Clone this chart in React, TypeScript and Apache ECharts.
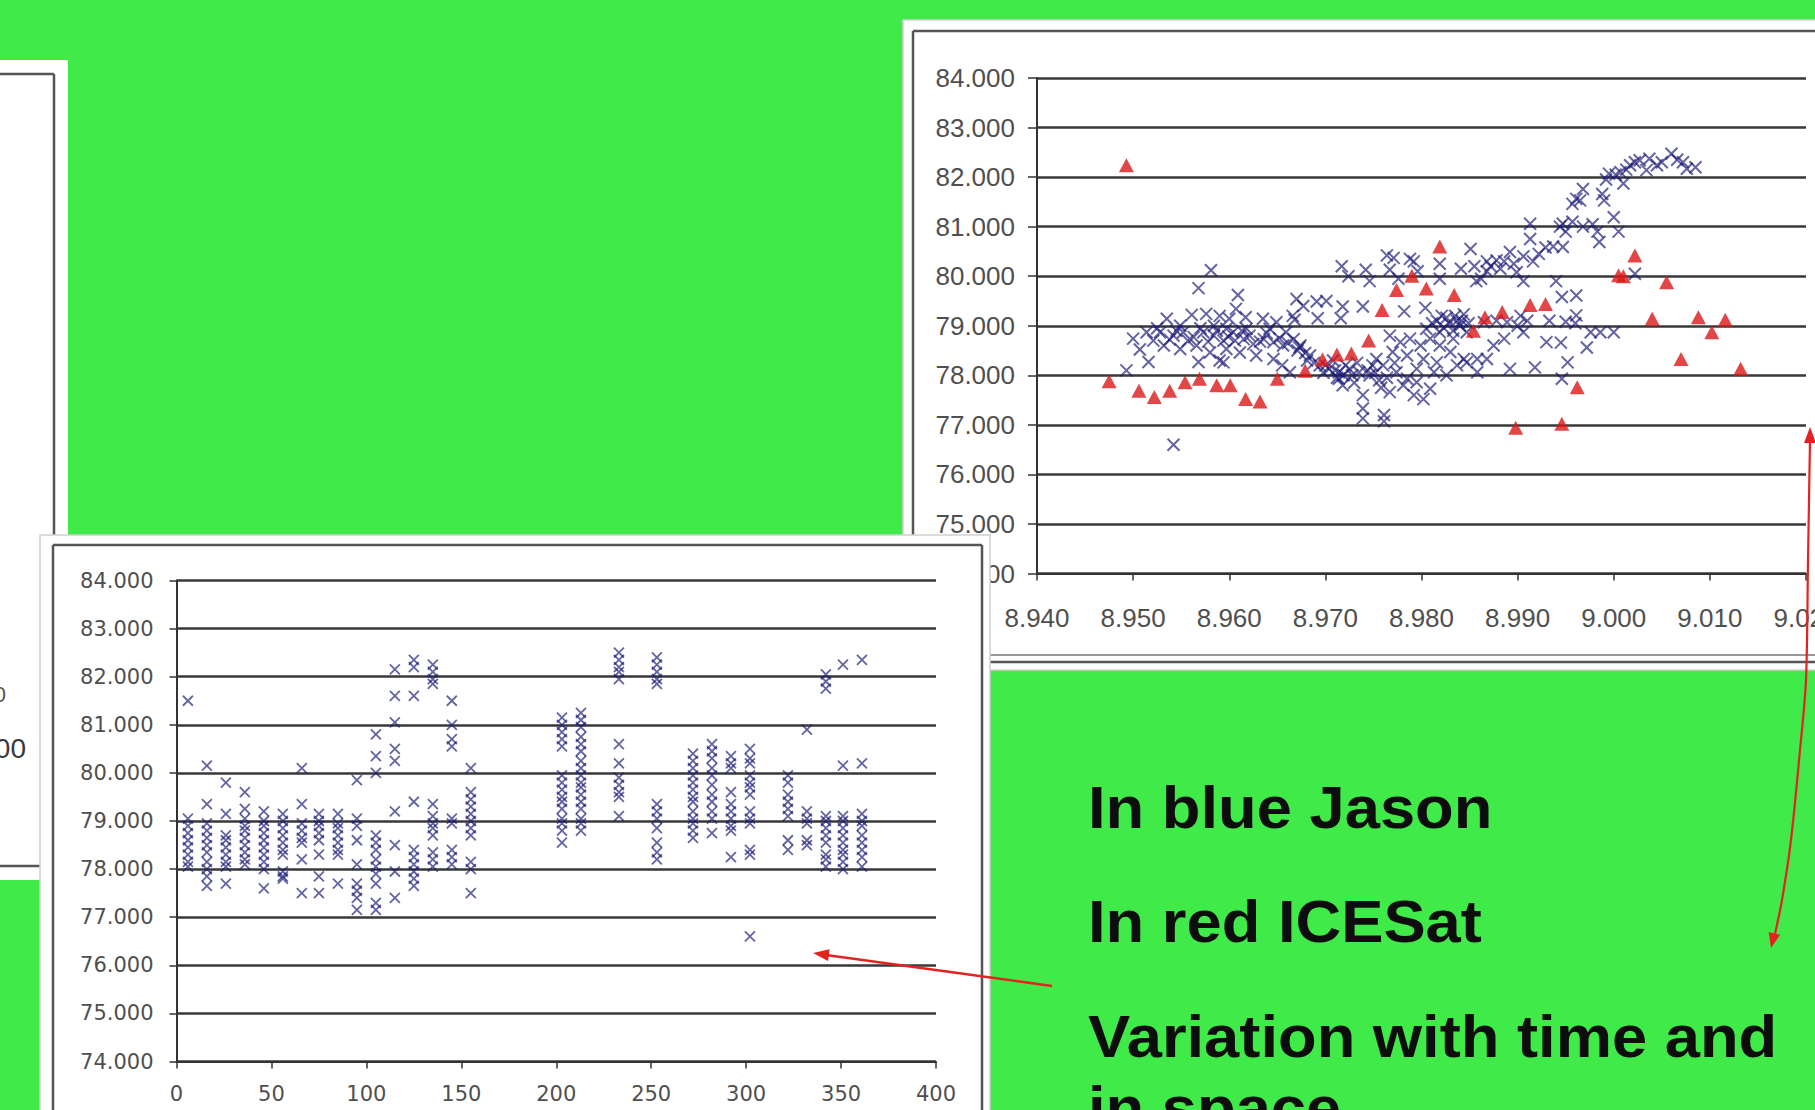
import React, { useEffect, useRef } from "react";
import * as echarts from "echarts";

const W = 1815;
const H = 1110;

// ---- Top-right chart: height vs latitude (Jason = blue x, ICESat = red triangles)
const topXTicks = [8.94, 9.02];
const heightTicks = [74, 84];

const icesatPoints: [number, number][] = [
  [8.9475, 77.88], [8.9493, 82.24], [8.9506, 77.69], [8.9522, 77.56], [8.9538, 77.69],
  [8.9554, 77.86], [8.9569, 77.93], [8.9587, 77.8], [8.9601, 77.8], [8.9617, 77.52],
  [8.9632, 77.47], [8.965, 77.93], [8.9679, 78.09], [8.9697, 78.32], [8.9712, 78.42],
  [8.9727, 78.44], [8.9745, 78.7], [8.9759, 79.32], [8.9774, 79.72], [8.979, 80.01],
  [8.9805, 79.75], [8.9819, 80.6], [8.9834, 79.62], [8.9854, 78.9], [8.9866, 79.17],
  [8.9884, 79.28], [8.9898, 76.94], [8.9913, 79.42], [8.9929, 79.44], [8.9946, 77.02],
  [8.9962, 77.76], [9.0005, 80.02], [9.001, 80.0], [9.0022, 80.42], [9.004, 79.14],
  [9.0055, 79.88], [9.007, 78.33], [9.0088, 79.17], [9.0102, 78.87], [9.0116, 79.12],
  [9.0132, 78.13],
];

const jasonPoints: [number, number][] = [
  [8.9493, 78.1], [8.95, 78.74], [8.9507, 78.52], [8.9516, 78.27], [8.9514, 78.87],
  [8.9521, 78.7], [8.9528, 78.87], [8.9532, 78.6], [8.9535, 79.14], [8.9542, 78.8],
  [8.9542, 76.6], [8.9549, 79.0], [8.9549, 78.53], [8.9552, 78.87], [8.9561, 79.22],
  [8.9563, 78.77], [8.9566, 78.6], [8.9568, 79.76], [8.9568, 78.27], [8.9573, 78.87],
  [8.9576, 79.24], [8.9581, 80.12], [8.958, 78.46], [8.9584, 78.8], [8.9584, 79.0],
  [8.959, 79.2], [8.959, 78.3], [8.9594, 78.7], [8.9594, 78.26], [8.9597, 78.94],
  [8.9597, 78.53], [8.96, 79.14], [8.9604, 78.87], [8.9607, 79.34], [8.9609, 79.62],
  [8.9611, 78.46], [8.9615, 78.73], [8.9617, 79.17], [8.9618, 78.94], [8.9625, 78.63],
  [8.9628, 78.4], [8.9635, 79.14], [8.9636, 78.73], [8.9642, 78.94], [8.9646, 78.67],
  [8.9646, 78.33], [8.9649, 79.07], [8.9655, 78.2], [8.9656, 78.6], [8.9659, 78.87],
  [8.9663, 78.06], [8.9666, 79.2], [8.9667, 78.73], [8.9668, 79.12], [8.967, 79.54],
  [8.9673, 78.56], [8.9674, 78.6], [8.9677, 79.4],
  [8.9525, 78.95], [8.9538, 78.72], [8.9545, 78.9], [8.9557, 78.7], [8.957, 78.95],
  [8.9578, 78.68], [8.9587, 78.9], [8.9599, 78.78], [8.9606, 78.7], [8.9613, 78.9],
  [8.9621, 78.8], [8.9632, 78.68], [8.9639, 78.85], [8.9652, 78.75], [8.9661, 78.65],
  [8.9671, 78.5], [8.9681, 78.3], [8.9688, 78.25], [8.97, 78.2], [8.971, 78.1],
  [8.9719, 78.0], [8.9728, 78.0], [8.9733, 78.25], [8.9744, 78.1], [8.9752, 78.05],
  [8.9758, 77.75], [8.9764, 77.95], [8.9772, 78.25],
  [8.9679, 78.45], [8.9684, 78.4], [8.9691, 79.49], [8.9692, 79.15], [8.9694, 78.2],
  [8.9698, 78.05], [8.9701, 79.5], [8.9704, 78.13], [8.9708, 78.3], [8.9712, 77.95],
  [8.9714, 78.06], [8.9714, 77.93], [8.9716, 79.15], [8.9717, 80.2], [8.9718, 79.39],
  [8.9718, 77.8], [8.9721, 78.2], [8.9724, 80.0], [8.9725, 78.13], [8.973, 77.85],
  [8.9735, 78.06], [8.9739, 79.39], [8.9739, 77.6], [8.9739, 77.33], [8.9739, 77.13],
  [8.9742, 80.13], [8.9746, 79.9], [8.9746, 78.0], [8.9749, 78.2], [8.9753, 78.33],
  [8.9756, 77.9], [8.976, 78.2], [8.9761, 77.2], [8.9761, 77.07], [8.9764, 80.42],
  [8.9767, 80.13], [8.9767, 78.8], [8.9767, 77.66], [8.977, 78.47], [8.9771, 80.37],
  [8.9774, 78.06], [8.9776, 79.95], [8.9778, 78.67], [8.9781, 77.8], [8.9782, 79.29],
  [8.9785, 78.4], [8.9785, 77.93], [8.9788, 78.74], [8.9788, 80.35], [8.9792, 80.3],
  [8.9792, 77.6], [8.9795, 77.86], [8.9795, 78.13], [8.9796, 80.1], [8.9799, 78.6],
  [8.9802, 77.52], [8.9802, 78.33], [8.9804, 79.36], [8.9805, 78.94], [8.9809, 78.74],
  [8.9809, 77.73], [8.9811, 79.05], [8.9813, 78.06], [8.9816, 79.1], [8.9816, 78.26],
  [8.9819, 80.25], [8.9819, 79.95], [8.9819, 78.6], [8.9819, 78.87], [8.9821, 79.2],
  [8.9823, 78.96], [8.9826, 79.16], [8.9826, 78.0], [8.9829, 79.05], [8.983, 78.47],
  [8.9833, 78.9], [8.9833, 78.74], [8.9835, 79.2], [8.9837, 79.1], [8.9837, 78.2],
  [8.984, 79.0], [8.9841, 80.15], [8.9842, 79.1], [8.9844, 79.23], [8.9844, 78.33],
  [8.9847, 78.87], [8.9847, 78.26], [8.9849, 79.05], [8.9851, 80.55], [8.9855, 80.2],
  [8.9857, 79.9], [8.9858, 78.33], [8.9858, 78.06], [8.9862, 79.95], [8.9865, 79.07],
  [8.9868, 80.1], [8.9868, 80.3], [8.9868, 78.33], [8.9872, 80.2], [8.9875, 78.6],
  [8.9878, 80.32], [8.9878, 79.1], [8.9882, 80.15], [8.9886, 78.74], [8.9886, 80.3],
  [8.9889, 79.07], [8.9892, 80.49], [8.9892, 78.13], [8.9896, 80.25], [8.9899, 80.08],
  [8.99, 79.0], [8.9903, 79.2], [8.9906, 80.4], [8.9906, 79.9], [8.9906, 78.87],
  [8.991, 79.1], [8.9913, 81.06], [8.9913, 80.75], [8.9916, 80.3], [8.9918, 78.16],
  [8.9922, 80.45], [8.9929, 80.58], [8.993, 78.67], [8.9933, 79.1], [8.9937, 80.6],
  [8.994, 79.9], [8.9944, 81.0], [8.9945, 78.66], [8.9946, 77.93], [8.9946, 79.58],
  [8.9947, 80.59], [8.9947, 81.06], [8.995, 80.9], [8.995, 79.08], [8.9952, 78.26],
  [8.9957, 81.1], [8.9957, 81.46], [8.996, 79.05], [8.9961, 81.56], [8.9961, 79.61],
  [8.9961, 79.21], [8.9965, 81.53], [8.9968, 81.76], [8.9968, 81.0], [8.9972, 78.56],
  [8.9976, 78.87], [8.9978, 81.05], [8.9983, 80.9], [8.9985, 80.69], [8.9986, 78.87],
  [8.9988, 81.66], [8.999, 81.53], [8.9992, 81.95], [8.9995, 82.07], [9.0, 81.19],
  [9.0, 78.87], [9.0002, 82.05], [9.0005, 80.9], [9.0007, 82.1], [9.001, 81.87],
  [9.0013, 82.15], [9.0017, 82.24], [9.0022, 80.05], [9.0022, 82.3], [9.0027, 82.34],
  [9.0034, 82.14], [9.0037, 82.37], [9.0045, 82.24], [9.005, 82.3], [9.006, 82.47],
  [9.0066, 82.35], [9.0072, 82.3], [9.0076, 82.17], [9.0085, 82.2],
];

// ---- Bottom-left chart: height vs day (Jason passes)
const dayTicks = [0, 400];
const jasonDays = [6, 16, 26, 36, 46, 56, 66, 75, 85, 95, 105, 115, 125, 135, 145, 155,
  203, 213, 233, 253, 272, 282, 292, 302, 322, 332, 342, 351, 361];
const jasonHeightsByDay: number[][] = [
  [81.5, 79.05, 78.9, 78.75, 78.6, 78.45, 78.3, 78.15, 78.05],
  [80.15, 79.35, 78.95, 78.8, 78.65, 78.5, 78.35, 78.15, 78.0, 77.85, 77.65],
  [79.8, 79.15, 78.7, 78.6, 78.45, 78.3, 78.15, 78.05, 77.7],
  [79.6, 79.25, 79.05, 78.9, 78.8, 78.65, 78.5, 78.35, 78.2, 78.1],
  [79.2, 79.0, 78.9, 78.75, 78.6, 78.45, 78.3, 78.15, 78.0, 77.6],
  [79.15, 79.0, 78.85, 78.7, 78.55, 78.4, 78.3, 77.95, 77.85, 77.8],
  [80.1, 79.35, 78.95, 78.8, 78.65, 78.55, 78.2, 77.5],
  [79.15, 79.0, 78.9, 78.75, 78.6, 78.3, 77.85, 77.5],
  [79.15, 78.95, 78.85, 78.7, 78.55, 78.4, 78.3, 77.7],
  [79.85, 79.05, 78.9, 78.6, 78.1, 77.7, 77.55, 77.4, 77.15],
  [80.8, 80.35, 80.0, 78.7, 78.55, 78.4, 78.2, 78.05, 77.9, 77.7, 77.3, 77.15],
  [82.15, 81.6, 81.05, 80.5, 80.25, 79.2, 78.5, 77.95, 77.4],
  [82.35, 82.2, 81.6, 79.4, 78.4, 78.25, 78.1, 77.95, 77.8, 77.65],
  [82.25, 82.1, 81.95, 81.85, 79.35, 79.1, 78.95, 78.85, 78.7, 78.35, 78.2, 78.05],
  [81.5, 81.0, 80.7, 80.55, 79.05, 78.95, 78.4, 78.25, 78.1],
  [80.1, 79.6, 79.45, 79.3, 79.15, 79.0, 78.85, 78.7, 78.15, 78.0, 77.5],
  [81.15, 81.0, 80.85, 80.7, 80.55, 79.95, 79.8, 79.65, 79.5, 79.4, 79.25, 79.05, 78.95, 78.8, 78.55],
  [81.25, 81.1, 80.95, 80.75, 80.6, 80.45, 80.25, 80.1, 79.95, 79.8, 79.7, 79.55, 79.4, 79.25, 79.05, 78.95, 78.8],
  [82.5, 82.35, 82.2, 82.1, 81.95, 80.6, 80.2, 79.9, 79.75, 79.6, 79.5, 79.1],
  [82.4, 82.25, 82.1, 81.95, 81.85, 79.35, 79.2, 79.05, 78.85, 78.55, 78.35, 78.2],
  [80.4, 80.25, 80.1, 79.95, 79.8, 79.65, 79.5, 79.4, 79.2, 79.05, 78.95, 78.8, 78.65],
  [80.6, 80.45, 80.3, 80.1, 79.95, 79.75, 79.55, 79.4, 79.2, 79.05, 78.75],
  [80.35, 80.2, 80.1, 79.6, 79.35, 79.2, 79.05, 78.9, 78.8, 78.25],
  [80.5, 80.3, 80.2, 79.95, 79.8, 79.7, 79.55, 79.2, 79.05, 78.95, 78.4, 78.3, 76.6],
  [79.95, 79.8, 79.55, 79.4, 79.25, 79.1, 78.6, 78.4],
  [80.9, 79.2, 79.05, 78.95, 78.6, 78.5],
  [82.05, 81.9, 81.75, 79.1, 79.0, 78.85, 78.7, 78.55, 78.3, 78.2, 78.05],
  [82.25, 80.15, 79.1, 79.0, 78.85, 78.7, 78.55, 78.4, 78.3, 78.15, 78.0],
  [82.35, 80.2, 79.15, 79.0, 78.9, 78.7, 78.55, 78.4, 78.25, 78.05],
];

const captionLines = ["In blue Jason", "In red ICESat", "Variation with time and", "in space"];

const CROSS = "path://M0 0L10 10M10 0L0 10";
const GREEN = "#40ea49";
const GRID_LINE = "#383838";
const LABEL = "#4f4f4f";

function buildOption() {
  const bottomData: [number, number][] = [];
  jasonDays.forEach((d, i) => jasonHeightsByDay[i].forEach((h) => bottomData.push([d, h])));

  const fmt3 = (v: number) => v.toFixed(3);

  const crossStyle = (size: number, w: number) => ({
    symbol: CROSS,
    symbolSize: size,
    itemStyle: { color: "rgba(0,0,0,0)", borderColor: "#1a1a78", borderWidth: w, opacity: 0.68 },
  });

  const frame = (x1: number, y1: number, x2: number, y2: number, z: number, color = "#555", w = 2.5) => ({
    type: "line",
    shape: { x1, y1, x2, y2 },
    style: { stroke: color, lineWidth: w },
    z,
    silent: true,
  });

  const captionY = [807, 921, 1036, 1107];

  const graphics: any[] = [
    // left (mostly hidden) panel
    { type: "rect", shape: { x: 0, y: 60, width: 68, height: 820 }, style: { fill: "#ffffff" }, z: -10, silent: true },
    frame(0, 74, 54, 74, -9),
    frame(54, 74, 54, 540, -9),
    frame(0, 866, 40, 866, -9),
    { type: "text", x: 26, y: 748, style: { text: "000", fontSize: 28, fontFamily: "Liberation Sans", fill: "#3a3a3a", align: "right", verticalAlign: "middle" }, z: -8, silent: true },
    { type: "text", x: 6, y: 694, style: { text: "0", fontSize: 22, fontFamily: "Liberation Sans", fill: "#555", align: "right", verticalAlign: "middle" }, z: -8, silent: true },
    // top-right panel
    { type: "rect", shape: { x: 903, y: 20, width: 920, height: 650 }, style: { fill: "#ffffff", stroke: "#cfcfcf", lineWidth: 1.5 }, z: -10, silent: true },
    frame(913, 31, 1815, 31, -9),
    frame(913, 31, 913, 662, -9),
    frame(913, 655, 1815, 655, -9, "#777", 1.5),
    frame(913, 662, 1815, 662, -9),
    // bottom-left panel (overlaps top-right panel)
    { type: "rect", shape: { x: 40, y: 535, width: 950, height: 580 }, style: { fill: "#ffffff", stroke: "#d0d0d0", lineWidth: 1.5 }, z: 100, silent: true },
    frame(53, 545, 982, 545, 100),
    frame(53, 545, 53, 1112, 100),
    frame(982, 545, 982, 1112, 100),
    // captions
    ...captionLines.map((t, i) => ({
      type: "text",
      x: 1088,
      y: captionY[i],
      scaleX: 1.055,
      style: { text: t, fontSize: 60, fontWeight: "bold", fontFamily: "Liberation Sans", fill: "#0d0d0d", align: "left", verticalAlign: "middle" },
      z: 200,
      silent: true,
    })),
    // arrow to the bottom-left chart
    { type: "line", shape: { x1: 1052, y1: 986, x2: 826, y2: 955 }, style: { stroke: "#e3231f", lineWidth: 2.5 }, z: 200, silent: true },
    { type: "polygon", shape: { points: [[813, 953], [829.6, 949.3], [828.0, 961.1]] }, style: { fill: "#e3231f" }, z: 200, silent: true },
    // double-headed curved arrow on the right
    { type: "polyline", shape: { points: [[1810, 440], [1808, 560], [1806, 680], [1800, 750], [1791, 840], [1782, 900], [1775, 934]], smooth: 0.3 }, style: { stroke: "#e3231f", lineWidth: 2.2, fill: "none" }, z: 200, silent: true },
    { type: "polygon", shape: { points: [[1810, 427], [1804, 443], [1816, 443]] }, style: { fill: "#e3231f" }, z: 200, silent: true },
    { type: "polygon", shape: { points: [[1771, 948], [1780.2, 934.8], [1768.6, 932.0]] }, style: { fill: "#e3231f" }, z: 200, silent: true },
  ];

  return {
    animation: false,
    backgroundColor: GREEN,
    graphic: { elements: graphics },
    grid: [
      { left: 1037, top: 78, width: 769, height: 495.5, containLabel: false, outerBoundsMode: "none" },
      { left: 176.5, top: 580.5, width: 759.5, height: 481, containLabel: false, outerBoundsMode: "none", z: 101 },
    ],
    xAxis: [
      {
        gridIndex: 0,
        type: "value",
        min: topXTicks[0],
        max: topXTicks[1],
        interval: 0.01,
        axisLine: { show: true, onZero: false, lineStyle: { color: "#333", width: 2 } },
        axisTick: { show: true, length: 7, lineStyle: { color: "#333", width: 1.5 } },
        splitLine: { show: false },
        axisLabel: { formatter: fmt3, fontFamily: "Liberation Sans", fontSize: 26, color: LABEL, margin: 31, showMinLabel: true, showMaxLabel: true, hideOverlap: false },
      },
      {
        gridIndex: 1,
        type: "value",
        min: dayTicks[0],
        max: dayTicks[1],
        interval: 50,
        z: 101,
        axisLine: { show: true, onZero: false, lineStyle: { color: "#333", width: 2 } },
        axisTick: { show: true, length: 7, lineStyle: { color: "#333", width: 1.5 } },
        splitLine: { show: false },
        axisLabel: { fontFamily: "DejaVu Sans", fontSize: 21, color: LABEL, margin: 22, showMinLabel: true, showMaxLabel: true, hideOverlap: false },
      },
    ],
    yAxis: [
      {
        gridIndex: 0,
        type: "value",
        min: heightTicks[0],
        max: heightTicks[1],
        interval: 1,
        axisLine: { show: true, onZero: false, lineStyle: { color: "#333", width: 2 } },
        axisTick: { show: true, length: 9, lineStyle: { color: "#333", width: 1.5 } },
        splitLine: { show: true, lineStyle: { color: GRID_LINE, width: 2.6 } },
        axisLabel: { formatter: fmt3, fontFamily: "Liberation Sans", fontSize: 26, color: LABEL, margin: 22, showMinLabel: true, showMaxLabel: true },
      },
      {
        gridIndex: 1,
        type: "value",
        min: heightTicks[0],
        max: heightTicks[1],
        interval: 1,
        z: 101,
        axisLine: { show: true, onZero: false, lineStyle: { color: "#333", width: 2 } },
        axisTick: { show: true, length: 7, lineStyle: { color: "#333", width: 1.5 } },
        splitLine: { show: true, lineStyle: { color: GRID_LINE, width: 2.6 } },
        axisLabel: { formatter: fmt3, fontFamily: "DejaVu Sans", fontSize: 21, color: LABEL, margin: 23, showMinLabel: true, showMaxLabel: true },
      },
    ],
    series: [
      {
        name: "Jason",
        type: "scatter",
        xAxisIndex: 0,
        yAxisIndex: 0,
        data: jasonPoints,
        ...crossStyle(12, 2),
        silent: true,
        emphasis: { disabled: true },
        z: 2,
      },
      {
        name: "ICESat",
        type: "scatter",
        xAxisIndex: 0,
        yAxisIndex: 0,
        data: icesatPoints,
        symbol: "triangle",
        symbolSize: [15, 14],
        itemStyle: { color: "#dc1818" },
        silent: true,
        emphasis: { disabled: true },
        z: 3,
      },
      {
        name: "Jason by day",
        type: "scatter",
        xAxisIndex: 1,
        yAxisIndex: 1,
        data: bottomData,
        ...crossStyle(10, 1.8),
        silent: true,
        emphasis: { disabled: true },
        z: 102,
      },
    ],
  };
}

export default function App() {
  const ref = useRef<HTMLDivElement>(null);
  useEffect(() => {
    if (!ref.current) return;
    const chart = echarts.init(ref.current, null, { renderer: "svg", width: W, height: H });
    chart.setOption(buildOption() as any);
    return () => chart.dispose();
  }, []);
  return <div ref={ref} style={{ position: "fixed", left: 0, top: 0, width: W, height: H, overflow: "hidden" }} />;
}
